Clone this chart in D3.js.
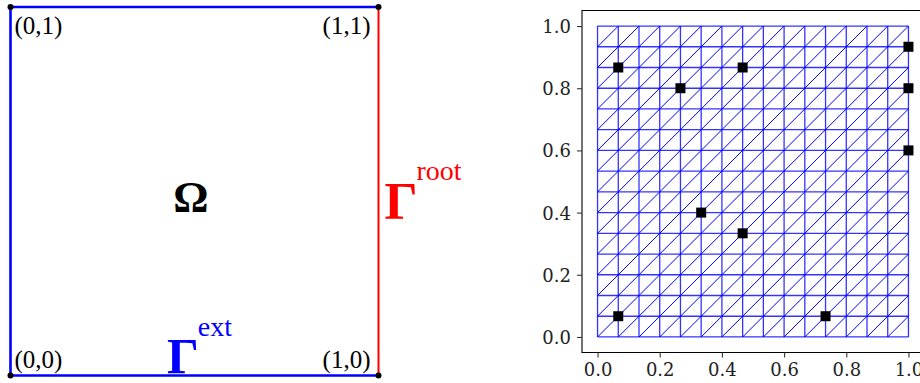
<!DOCTYPE html>
<html>
<head>
<meta charset="utf-8">
<script src="https://cdn.jsdelivr.net/npm/d3@7"></script>
<style>
  html, body { margin: 0; padding: 0; background: #fff; }
  svg { display: block; }
</style>
</head>
<body>
<div id="chart"></div>
<script>
// left panel: unit square domain
const corners = [[0, 0], [1, 0], [1, 1], [0, 1]];
const cornerLabels = ['(0,0)', '(1,0)', '(1,1)', '(0,1)'];
const boundaryEdges = [
  { from: [0, 0], to: [1, 0], color: '#0000ff' },
  { from: [0, 0], to: [0, 1], color: '#0000ff' },
  { from: [0, 1], to: [1, 1], color: '#0000ff' },
  { from: [1, 0], to: [1, 1], color: '#ff0000' }
];

// right panel: mesh node positions (15 x 15 cells) and observation points
const meshNodes = [0, 1/15, 2/15, 3/15, 4/15, 5/15, 6/15, 7/15, 8/15,
  9/15, 10/15, 11/15, 12/15, 13/15, 14/15, 1];
const pointsX = [1/15, 4/15, 7/15, 1, 1, 1, 5/15, 7/15, 1/15, 11/15];
const pointsY = [13/15, 12/15, 13/15, 14/15, 12/15, 9/15, 6/15, 5/15, 1/15, 1/15];
const tickValues = [0, 0.2, 0.4, 0.6, 0.8, 1.0];

const svg = d3.select('#chart').append('svg')
  .attr('width', 920)
  .attr('height', 383);

svg.append('rect').attr('width', 920).attr('height', 383).attr('fill', '#fff');

// ---------- left panel ----------
const lx = d3.scaleLinear().domain([0, 1]).range([10.5, 378.5]);
const ly = d3.scaleLinear().domain([0, 1]).range([375.5, 7]);

const left = svg.append('g');

left.selectAll('line.edge')
  .data(boundaryEdges)
  .join('line')
  .attr('class', 'edge')
  .attr('x1', d => lx(d.from[0]))
  .attr('y1', d => ly(d.from[1]))
  .attr('x2', d => lx(d.to[0]))
  .attr('y2', d => ly(d.to[1]))
  .attr('stroke', d => d.color)
  .attr('stroke-width', d => d.color === '#ff0000' ? 2 : 2.6);

left.selectAll('circle')
  .data(corners)
  .join('circle')
  .attr('cx', d => lx(d[0]))
  .attr('cy', d => ly(d[1]))
  .attr('r', 3)
  .attr('fill', '#000');

const serif = '"Liberation Serif", "Times New Roman", serif';

left.selectAll('text.corner')
  .data(corners)
  .join('text')
  .attr('class', 'corner')
  .attr('x', d => lx(d[0]) + (d[0] === 0 ? 4 : -8))
  .attr('y', d => ly(d[1]) + (d[1] === 0 ? -8 : 27))
  .attr('text-anchor', d => d[0] === 0 ? 'start' : 'end')
  .style('font-family', serif)
  .style('font-size', '25px')
  .attr('fill', '#000')
  .text((d, i) => cornerLabels[i]);

left.append('text')
  .attr('x', lx(0.49))
  .attr('y', ly(0.445))
  .attr('text-anchor', 'middle')
  .style('font-family', serif)
  .style('font-weight', 'bold')
  .style('font-size', '44px')
  .text('Ω');

const gExt = left.append('text')
  .attr('x', lx(0.425))
  .attr('y', ly(0.007))
  .attr('fill', '#0000ff')
  .style('font-family', serif);
gExt.append('tspan').style('font-size', '50px').style('font-weight', 'bold').text('Γ');
gExt.append('tspan').style('font-size', '28px').attr('dy', -37).attr('dx', -1).text('ext');

const gRoot = left.append('text')
  .attr('x', lx(1.016))
  .attr('y', ly(0.425))
  .attr('fill', '#ff0000')
  .style('font-family', serif);
gRoot.append('tspan').style('font-size', '52px').style('font-weight', 'bold').text('Γ');
gRoot.append('tspan').style('font-size', '28px').attr('dy', -39).attr('dx', -1).text('root');

// ---------- right panel ----------
const x = d3.scaleLinear().domain([-0.05, 1.05]).range([582, 924]);
const y = d3.scaleLinear().domain([-0.05, 1.05]).range([352.5, 10.5]);

const right = svg.append('g');
const mesh = right.append('g')
  .attr('stroke', '#0000ff')
  .attr('stroke-width', 1)
  .attr('fill', 'none');

// horizontal and vertical mesh lines
meshNodes.forEach(v => {
  mesh.append('line')
    .attr('x1', x(0)).attr('x2', x(1))
    .attr('y1', y(v)).attr('y2', y(v))
    .attr('stroke-width', 1.3)
    .attr('stroke-opacity', 0.8);
  mesh.append('line')
    .attr('x1', x(v)).attr('x2', x(v))
    .attr('y1', y(0)).attr('y2', y(1))
    .attr('stroke-width', 1.3)
    .attr('stroke-opacity', 0.8);
});

// diagonals of each cell
const diagonals = [];
for (let i = 0; i < meshNodes.length - 1; i++) {
  for (let j = 0; j < meshNodes.length - 1; j++) {
    diagonals.push([meshNodes[i], meshNodes[j], meshNodes[i + 1], meshNodes[j + 1]]);
  }
}
mesh.selectAll('line.diag')
  .data(diagonals)
  .join('line')
  .attr('class', 'diag')
  .attr('x1', d => x(d[0]))
  .attr('y1', d => y(d[1]))
  .attr('x2', d => x(d[2]))
  .attr('y2', d => y(d[3]))
  .attr('stroke-width', 1);

// observation points
right.selectAll('rect.pt')
  .data(pointsX)
  .join('rect')
  .attr('class', 'pt')
  .attr('x', (d, i) => x(d) - 5)
  .attr('y', (d, i) => y(pointsY[i]) - 5)
  .attr('width', 10)
  .attr('height', 10)
  .attr('fill', '#000');

// spines
right.append('path')
  .attr('d', `M${x(1.05)},${y(1.05)}H${x(-0.05)}V${y(-0.05)}H${x(1.05)}`)
  .attr('fill', 'none')
  .attr('stroke', '#000')
  .attr('stroke-width', 1.1);

const tickFont = '"DejaVu Serif", "Liberation Serif", serif';

const xAxis = right.append('g')
  .attr('transform', `translate(0,${y(-0.05)})`)
  .call(d3.axisBottom(x).tickValues(tickValues).tickFormat(d3.format('.1f')).tickSize(5).tickPadding(6));
const yAxis = right.append('g')
  .attr('transform', `translate(${x(-0.05)},0)`)
  .call(d3.axisLeft(y).tickValues(tickValues).tickFormat(d3.format('.1f')).tickSize(5).tickPadding(6));

[xAxis, yAxis].forEach(a => {
  a.attr('font-family', null);
  a.select('.domain').remove();
  a.selectAll('.tick line').attr('stroke', '#333').attr('stroke-width', 1.1);
  a.selectAll('.tick text')
    .attr('font-family', tickFont)
    .style('font-family', tickFont)
    .style('font-size', '18px')
    .attr('fill', '#222');
});
yAxis.selectAll('.tick text').attr('dy', '0.36em');
</script>
</body>
</html>
